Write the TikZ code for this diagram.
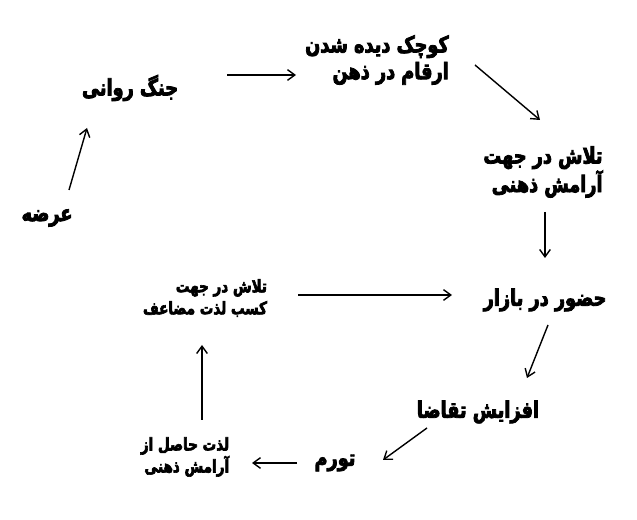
\documentclass[tikz,border=0pt]{standalone}
\usepackage{fontspec}
\usepackage{tikz}
\usetikzlibrary{calc}
\usetikzlibrary{arrows.meta}
\usetikzlibrary{positioning}
\TeXXeTstate=1
\newfontfamily\farsi[Script=Arabic, FakeStretch=0.78, BoldFeatures={FakeBold=3.5}]{DejaVu Sans}
\newcommand{\fa}[1]{\beginR #1\endR}

\tikzset{
  big/.style={rectangle, draw=none, text=black, align=right, inner sep=0pt,
    font=\farsi\bfseries\fontsize{17}{20}\selectfont},
  small/.style={rectangle, draw=none, text=black, align=right, inner sep=0pt,
    font=\farsi\bfseries\fontsize{13}{16.5}\selectfont},
  arr/.style={-{Straight Barb[length=5.5pt, width=8pt]}, draw=black, line width=1.05pt}
}

\begin{document}
\begin{tikzpicture}[x=0.75pt, y=0.75pt]
\useasboundingbox (0,0) rectangle (637,520);
\node [big] (arza) at (47,302) {\fa{عرضه}};
\node [big] (jang) at (130,432) {\fa{جنگ روانی}};
\node [big] (kuchak) at (377,460) {\fa{کوچک دیده شدن}\\\fa{ارقام در ذهن}};
\node [big] (aramesh) at (543,348) {\fa{تلاش در جهت}\\\fa{آرامش ذهنی}};
\node [big] (hozur) at (545,220) {\fa{حضور در بازار}};
\node [big] (taghaza) at (478,108) {\fa{افزایش تقاضا}};
\node [big] (tavarrom) at (335,57) {\fa{تورم}};
\node [small] (lezzat) at (185,63) {\fa{لذت حاصل از}\\\fa{آرامش ذهنی}};
\node [small] (mozaaf) at (205,222) {\fa{تلاش در جهت}\\\fa{کسب لذت مضاعف}};
\draw [arr] ([shift={(22,28)}]arza.center) to ([shift={(-43,-40)}]jang.center);
\draw [arr] ([shift={(97,13)}]jang.center) to ([shift={(-81,-15)}]kuchak.center);
\draw [arr] ([shift={(98,-5)}]kuchak.center) to ([shift={(-3,52)}]aramesh.center);
\draw [arr] ([shift={(2,-40)}]aramesh.center) to ([shift={(0,42)}]hozur.center);
\draw [arr] ([shift={(3,-25)}]hozur.center) to ([shift={(49,34)}]taghaza.center);
\draw [arr] ([shift={(-51,-16)}]taghaza.center) to ([shift={(48,3)}]tavarrom.center);
\draw [arr] ([shift={(-38,0)}]tavarrom.center) to ([shift={(67,-6)}]lezzat.center);
\draw [arr] ([shift={(17,37)}]lezzat.center) to ([shift={(-3,-47)}]mozaaf.center);
\draw [arr] ([shift={(93,3)}]mozaaf.center) to ([shift={(-93,5)}]hozur.center);
\end{tikzpicture}
\end{document}
